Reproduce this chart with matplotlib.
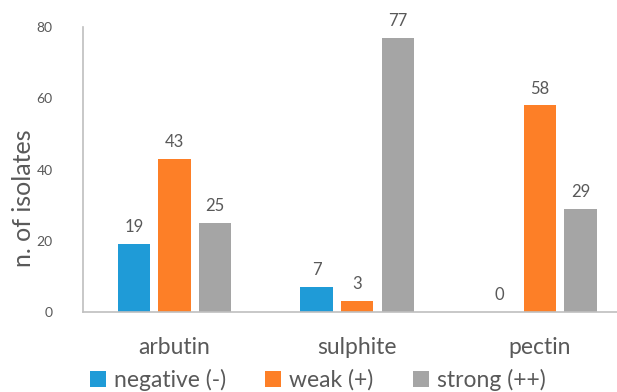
import numpy as np
import matplotlib.pyplot as plt

plt.rcParams['font.family'] = ['Lato', 'DejaVu Sans']

categories = ['arbutin', 'sulphite', 'pectin']
series_names = ['negative (-)', 'weak (+)', 'strong (++)']
negative = [19, 7, 0]
weak = [43, 3, 58]
strong = [25, 77, 29]

colors = ['#1f9bd7', '#fd7f27', '#a5a5a5']
text_gray = '#595959'

fig = plt.figure(figsize=(6.17, 3.92), dpi=100)
ax = fig.add_axes([0.1345, 0.204, 0.865, 0.727])

x = np.arange(len(categories))
width = 0.177
step = 0.222
for i, (vals, name) in enumerate(zip([negative, weak, strong], series_names)):
    pos = x + (i - 1) * step
    bars = ax.bar(pos, vals, width, color=colors[i], label=name)
    for b, v in zip(bars, vals):
        ax.text(b.get_x() + b.get_width() / 2, v + 2.5, str(v),
                ha='center', va='bottom', fontsize=12, color=text_gray)

ax.set_xlim(-0.5, 2.42)
ax.set_ylim(0, 80)
ax.set_yticks([0, 20, 40, 60, 80])
ax.set_xticks(x)
ax.set_xticklabels(categories, fontsize=16.5, color=text_gray)
ax.tick_params(axis='y', labelsize=10, labelcolor=text_gray, length=0, pad=22)
ax.tick_params(axis='x', length=0, pad=18)

for side in ['top', 'right']:
    ax.spines[side].set_visible(False)
for side in ['left', 'bottom']:
    ax.spines[side].set_color('#bfbfbf')
    ax.spines[side].set_linewidth(1.2)

ax.set_ylabel('n. of isolates', fontsize=18, color=text_gray)
ax.yaxis.set_label_coords(-0.09, 0.4)

leg = fig.legend(loc='lower center', bbox_to_anchor=(0.515, -0.05), ncol=3,
                 frameon=False, fontsize=16.5, handlelength=0.7, handleheight=0.7,
                 handletextpad=0.35, columnspacing=1.7)
for t in leg.get_texts():
    t.set_color(text_gray)

fig.savefig('out.png', dpi=100)
